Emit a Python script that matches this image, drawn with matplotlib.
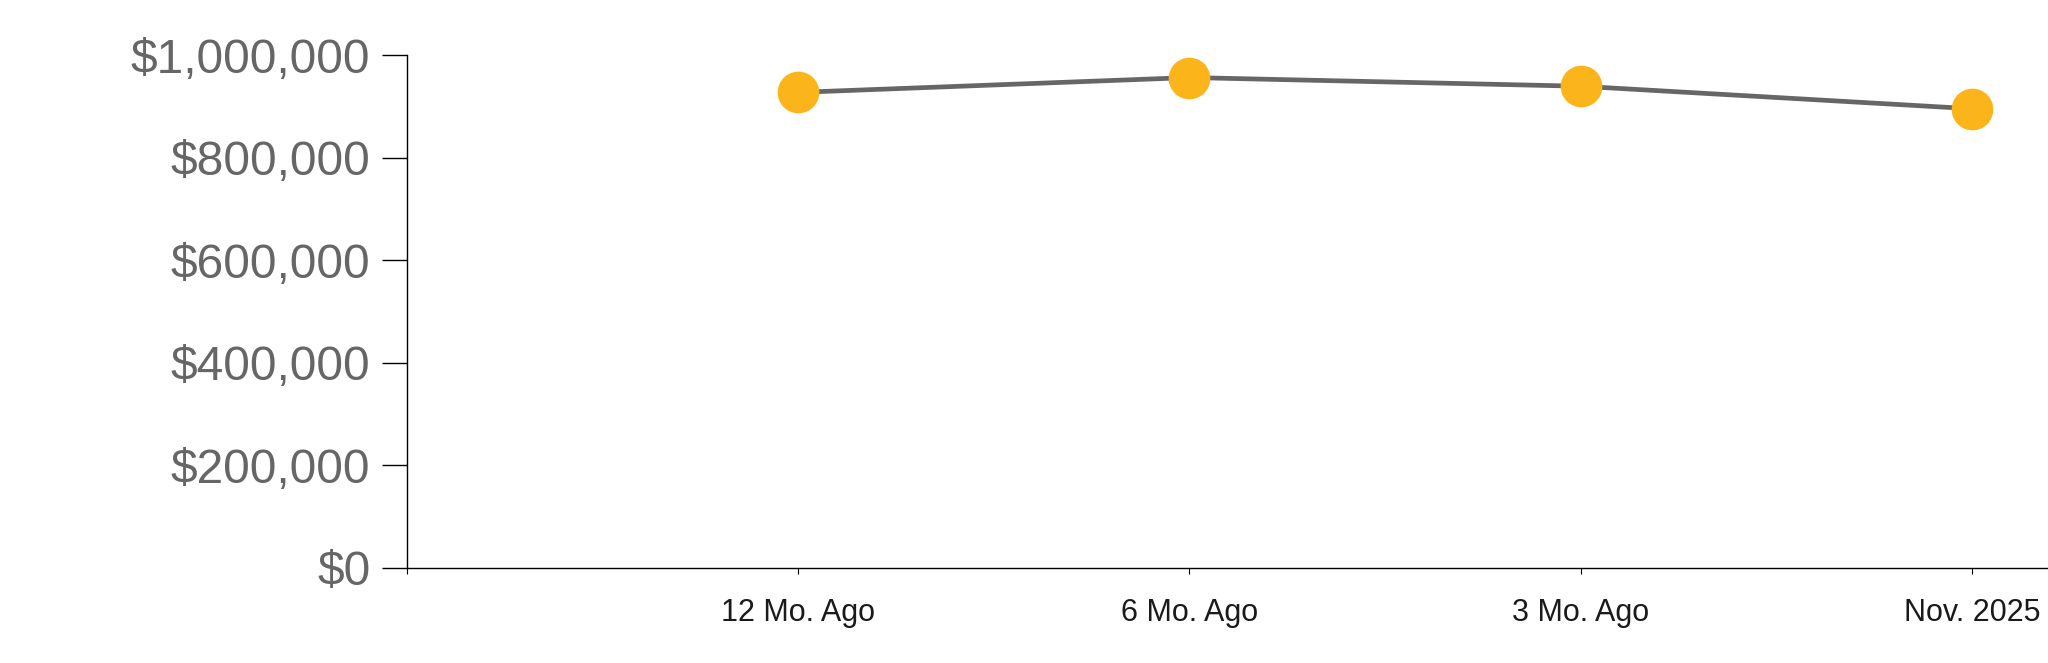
import matplotlib
matplotlib.use('Agg')
import matplotlib.pyplot as plt
from matplotlib.ticker import StrMethodFormatter

plt.rcParams['font.family'] = ['Liberation Sans', 'DejaVu Sans']

# data
periods = ['12 Mo. Ago', '6 Mo. Ago', '3 Mo. Ago', 'Nov. 2025']
prices = [928000, 957000, 940000, 896000]
y_ticks = [0, 200000, 400000, 600000, 800000, 1000000]

fig = plt.figure(figsize=(20.48, 6.63), dpi=100)
ax = fig.add_axes([0.1985, 0.1433, 0.8015, 0.773])

x_pos = list(range(1, len(periods) + 1))
ax.plot(x_pos, prices, color='#666666', linewidth=3.4, zorder=2,
        marker='o', markersize=30, markerfacecolor='#FBB41A',
        markeredgewidth=0, clip_on=False)

ax.set_xlim(0, 4.193)
ax.set_ylim(0, 1000000)

ax.set_xticks([0] + x_pos)
ax.set_xticklabels([''] + periods)
ax.set_yticks(y_ticks)
ax.yaxis.set_major_formatter(StrMethodFormatter('${x:,.0f}'))

for side in ['top', 'right']:
    ax.spines[side].set_visible(False)
for side in ['left', 'bottom']:
    ax.spines[side].set_linewidth(1.0)
    ax.spines[side].set_color('black')

ax.tick_params(axis='y', length=18, width=1.0, pad=8, labelsize=34.5,
               labelcolor='#666666', color='black')
ax.tick_params(axis='x', length=4.3, width=0.8, pad=17, labelsize=22,
               labelcolor='#1a1a1a', color='black')

fig.savefig('out.png', dpi=100)
